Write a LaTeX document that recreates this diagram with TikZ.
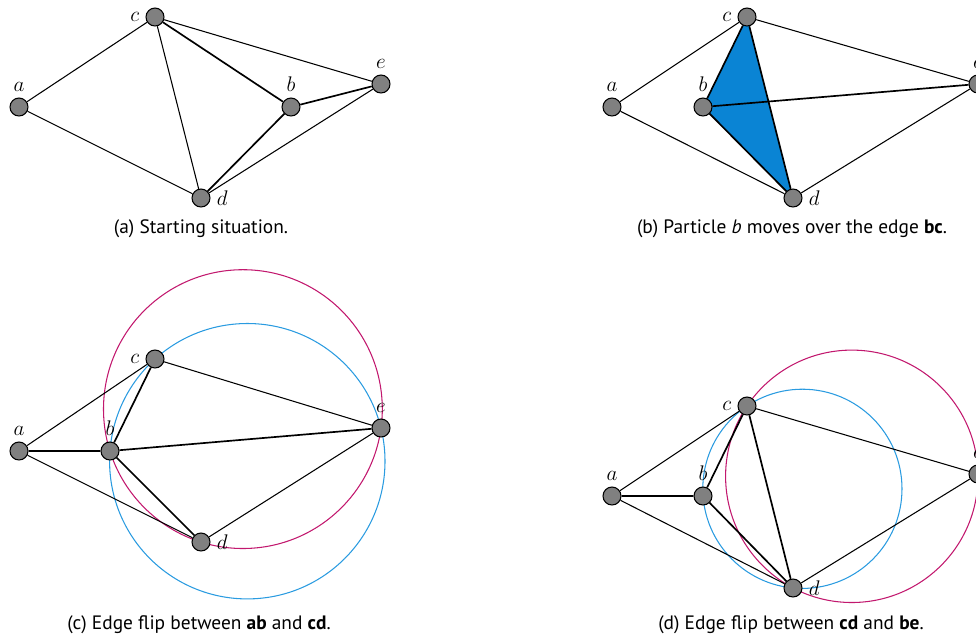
\documentclass[tikz,border=0pt]{standalone}
\usepackage{fontspec}
\setmainfont{PT Sans}
\usetikzlibrary{backgrounds}

\definecolor{vertexgray}{HTML}{808080}
\definecolor{cellblue}{HTML}{0A84D4}
\definecolor{circred}{HTML}{C2186E}
\definecolor{circblue}{HTML}{2A9BE0}

\tikzset{
  vertex/.style={circle,draw=black,fill=vertexgray,line width=0.6pt,
    minimum size=10.2pt,inner sep=0pt,label distance=0.5pt},
  every label/.style={font=\large},
  edge/.style={line width=0.6pt},
  flipedge/.style={line width=0.95pt},
  subcap/.style={font=\fontsize{11}{13}\selectfont},
}

\begin{document}
\begin{tikzpicture}[x=0.567pt,y=-0.567pt]
\useasboundingbox (0,0) rectangle (976,638);

% (a) starting situation
\node[vertex,label=above:$a$] (a1) at (19,107) {};
\node[vertex,label=left:$c$] (c1) at (155,17) {};
\node[vertex,label=above:$b$] (b1) at (291,107) {};
\node[vertex,label=above:$e$] (e1) at (381,84) {};
\node[vertex,label=right:$d$] (d1) at (201,198) {};
\draw[edge] (a1) -- (c1) (a1) -- (d1) (c1) -- (d1) (c1) -- (e1) (d1) -- (e1);
\draw[flipedge] (c1) -- (b1) (b1) -- (e1) (b1) -- (d1);
\node[subcap] (capa) at (201,229) {(a) Starting situation.};

% (b) b crosses bc
\node[vertex,label=above:$a$] (a2) at (612,107) {};
\node[vertex,label=left:$c$] (c2) at (747,17) {};
\node[vertex,label=above:$b$] (b2) at (703,107) {};
\node[vertex,label=above:$e$] (e2) at (978,84) {};
\node[vertex,label=right:$d$] (d2) at (793,198) {};
\begin{scope}[on background layer]
\fill[cellblue] (b2.center) -- (c2.center) -- (d2.center) -- cycle;
\end{scope}
\draw[edge] (a2) -- (c2) (a2) -- (d2) (c2) -- (e2) (d2) -- (e2);
\draw[flipedge] (b2) -- (c2) (c2) -- (d2) (b2) -- (d2) (b2) -- (e2);
\node[subcap] (capb) at (792,229) {(b) Particle \textit{b} moves over the edge \textbf{bc}.};

% (c) flip ab / cd
\draw[circred,line width=0.6pt] (242.9,409.1) circle (139.4);
\draw[circblue,line width=0.6pt] (247.3,461.2) circle (137.7);
\node[vertex,label=above:$a$] (a3) at (19,451) {};
\node[vertex,label=above:$b$] (b3) at (110,451) {};
\node[vertex,label=left:$c$] (c3) at (155,359) {};
\node[vertex,label=above:$e$] (e3) at (381,428) {};
\node[vertex,label=right:$d$] (d3) at (201,542) {};
\draw[edge] (a3) -- (c3) (a3) -- (d3) (c3) -- (e3) (d3) -- (e3);
\draw[flipedge] (a3) -- (b3) (b3) -- (c3) (b3) -- (e3) (b3) -- (d3);
\node[subcap] (capc) at (199,625) {(c) Edge flip between \textbf{ab} and \textbf{cd}.};

% (d) flip cd / be
\draw[circred,line width=0.6pt] (851.8,476.3) circle (126.2);
\draw[circblue,line width=0.6pt] (802.4,488.8) circle (99.6);
\node[vertex,label=above:$a$] (a4) at (612,496) {};
\node[vertex,label=above:$b$] (b4) at (703,496) {};
\node[vertex,label=left:$c$] (c4) at (747,406) {};
\node[vertex,label=above:$e$] (e4) at (978,474) {};
\node[vertex,label=right:$d$] (d4) at (793,588) {};
\draw[edge] (a4) -- (c4) (a4) -- (d4) (c4) -- (e4) (d4) -- (e4);
\draw[flipedge] (a4) -- (b4) (b4) -- (c4) (b4) -- (d4) (c4) -- (d4);
\node[subcap] (capd) at (791,625) {(d) Edge flip between \textbf{cd} and \textbf{be}.};
\end{tikzpicture}
\end{document}
